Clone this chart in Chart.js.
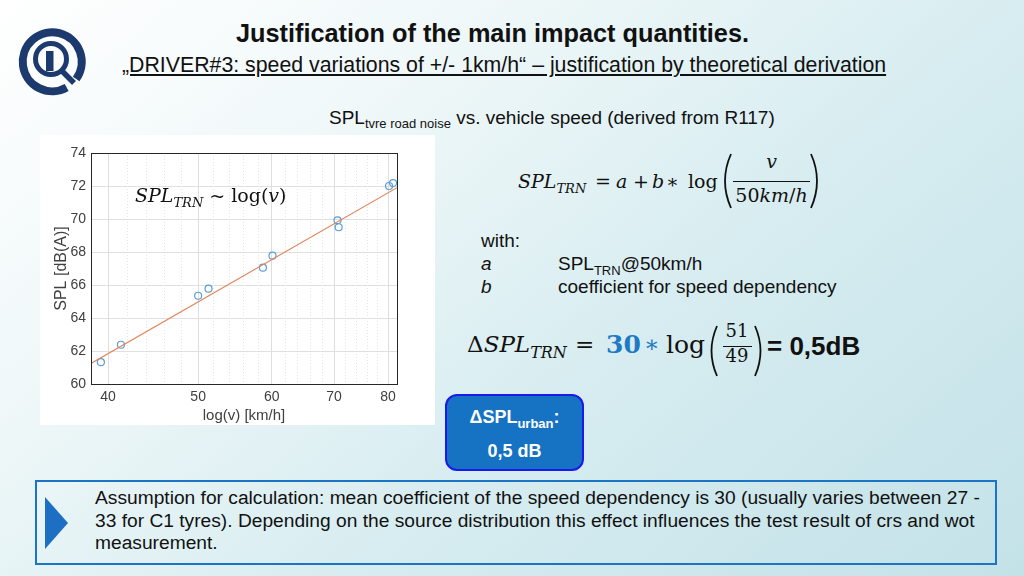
<!DOCTYPE html>
<html>
<head>
<meta charset="utf-8">
<script src="https://cdn.jsdelivr.net/npm/chart.js@4.4.1/dist/chart.umd.min.js"></script>
<style>
  html, body { margin: 0; padding: 0; }
  body {
    width: 1024px; height: 576px; overflow: hidden; position: relative;
    font-family: "Liberation Sans", Arial, sans-serif; color: #111;
    background: linear-gradient(140deg, #ffffff 0%, #f0f8f9 28%, #d6ecf0 62%, #c3e2e8 100%);
  }
  .abs { position: absolute; white-space: nowrap; }
  .title { left: 0; width: 985px; top: 19px; text-align: center; font-size: 25.3px; font-weight: bold; }
  .subtitle { left: 122px; top: 53px; font-size: 21.3px; text-decoration: underline; text-underline-offset: 2px; }
  .caption { left: 329px; top: 107px; font-size: 19px; }
  .caption sub { font-size: 13px; vertical-align: -4px; }
  #panel { position: absolute; left: 40px; top: 135px; width: 395px; height: 290px; background: #fff; }
  .m { position: absolute; white-space: nowrap; font-family: "DejaVu Serif", "Liberation Serif", serif; line-height: 1; }
  .m i { font-style: italic; }
  .with { font-size: 19px; }
  .bluebox {
    position: absolute; left: 445px; top: 394px; width: 135px; height: 73px;
    background: #1672c2; border: 2px solid #1a1aee; border-radius: 12px; color: #fff;
    font-weight: bold; font-size: 18px; text-align: center;
  }
  .note {
    position: absolute; left: 35px; top: 480px; width: 958px; height: 81px;
    border: 2px solid #1c74c4;
  }
  .note .txt { position: absolute; left: 58px; top: 5px; font-size: 19.2px; line-height: 22.5px; white-space: normal; width: 892px; }
</style>
</head>
<body>

<svg class="abs" style="left:10px;top:20px" width="90" height="80" viewBox="0 0 90 80">
  <path d="M 56.7 67.5 A 29.5 29.5 0 1 1 66.2 59" fill="none" stroke="#1d3a6e" stroke-width="8"/>
  <circle cx="41" cy="39" r="15.5" fill="none" stroke="#1d3a6e" stroke-width="5"/>
  <rect x="36" y="31" width="7.5" height="20" fill="#1d3a6e"/>
  <line x1="51" y1="50" x2="64" y2="63" stroke="#1d3a6e" stroke-width="5.5"/>
</svg>

<div class="abs title">Justification of the main impact quantities.</div>
<div class="abs subtitle">„DRIVER#3: speed variations of +/- 1km/h“ – justification by theoretical derivation</div>
<div class="abs caption">SPL<sub>tvre road noise</sub> vs. vehicle speed (derived from R117)</div>

<div id="panel"><canvas id="splChart"></canvas></div>
<div class="m" style="left:135px;top:186px;font-size:19px"><i>SPL<sub style="font-size:13px">TRN</sub></i> ~ log(<i>v</i>)</div>

<!-- formula 1, baseline ~188 -->
<div class="m" style="left:518px;top:172px;font-size:19px"><i>SPL<sub style="font-size:13px">TRN</sub></i></div>
<div class="m" style="left:595px;top:172px;font-size:19px">=</div>
<div class="m" style="left:616px;top:172px;font-size:19px"><i>a</i></div>
<div class="m" style="left:633px;top:172px;font-size:19px">+</div>
<div class="m" style="left:652px;top:172px;font-size:19px"><i>b</i></div>
<div class="m" style="left:666px;top:172px;font-size:19px">∗</div>
<div class="m" style="left:688px;top:172px;font-size:19px">log</div>
<svg class="abs" style="left:718px;top:152px" width="16" height="58"><path d="M 13 2 Q 1 29 13 56" fill="none" stroke="#111" stroke-width="1.8"/></svg>
<div class="m" style="left:733px;top:152px;width:77px;text-align:center;font-size:19px"><i>v</i></div>
<div class="abs" style="left:733px;top:181px;width:77px;height:1.4px;background:#111"></div>
<div class="m" style="left:733px;top:186px;width:77px;text-align:center;font-size:19px">50<i>km</i>/<i>h</i></div>
<svg class="abs" style="left:808px;top:152px" width="16" height="58"><path d="M 3 2 Q 15 29 3 56" fill="none" stroke="#111" stroke-width="1.8"/></svg>

<div class="abs with" style="left:481px;top:230px">with:</div>
<div class="abs with" style="left:481px;top:253px"><i>a</i></div>
<div class="abs with" style="left:558px;top:253px">SPL<sub style="font-size:13px">TRN</sub>@50km/h</div>
<div class="abs with" style="left:481px;top:276px"><i>b</i></div>
<div class="abs with" style="left:558px;top:276px">coefficient for speed dependency</div>

<!-- formula 2, baseline ~353 -->
<div class="m" style="left:467px;top:333px;font-size:23px">Δ<i>SPL<sub style="font-size:16px">TRN</sub></i></div>
<div class="m" style="left:575px;top:333px;font-size:23px">=</div>
<div class="m" style="left:606px;top:332px;font-size:25px;font-weight:bold;color:#1f7ac4">30</div>
<div class="m" style="left:644px;top:333px;font-size:23px;color:#1f7ac4">∗</div>
<div class="m" style="left:666px;top:332px;font-size:25px">log</div>
<svg class="abs" style="left:706px;top:324px" width="14" height="54"><path d="M 11 2 Q 0 27 11 52" fill="none" stroke="#111" stroke-width="1.8"/></svg>
<div class="m" style="left:721px;top:322px;width:32px;text-align:center;font-size:18px">51</div>
<div class="abs" style="left:723px;top:346px;width:29px;height:1.3px;background:#111"></div>
<div class="m" style="left:721px;top:347px;width:32px;text-align:center;font-size:18px">49</div>
<svg class="abs" style="left:752px;top:324px" width="14" height="54"><path d="M 3 2 Q 14 27 3 52" fill="none" stroke="#111" stroke-width="1.8"/></svg>
<div class="abs" style="left:767px;top:333px;font-size:26px;font-weight:bold;line-height:1">= 0,5dB</div>

<div class="bluebox">
  <div style="margin-top:11px">ΔSPL<sub style="font-size:13px">urban</sub>:</div>
  <div style="margin-top:10px">0,5 dB</div>
</div>

<div class="note">
  <svg class="abs" style="left:8px;top:15px" width="24" height="54"><polygon points="0,0 23,26 0,52" fill="#1c6fc2"/></svg>
  <div class="txt">Assumption for calculation: mean coefficient of the speed dependency is 30 (usually varies between 27 - 33 for C1 tyres). Depending on the source distribution this effect influences the test result of crs and wot measurement.</div>
</div>

<script>
// measured points
const speedKmh = [39.3, 41.3, 50.0, 51.3, 58.7, 60.1, 70.6, 70.8, 80.2, 81.0];
const splDbA = [61.32, 62.38, 65.35, 65.78, 67.05, 67.78, 69.92, 69.5, 72.0, 72.18];
// regression line ends
const fitSpeed = [38.35, 81.8];
const fitSpl = [61.25, 71.9];
const xTicks = [40, 50, 60, 70, 80];
const xMinorTicks = [42, 44, 46, 48, 52, 54, 56, 58, 62, 64, 66, 68, 72, 74, 76, 78];
const yTicks = [60, 62, 64, 66, 68, 70, 72, 74];

const tickFont = { family: "'Liberation Sans', Arial, sans-serif", size: 14 };

const boxPlugin = {
  id: "boxPlugin",
  afterDraw(chart) {
    const a = chart.chartArea;
    const ctx = chart.ctx;
    ctx.save();
    ctx.strokeStyle = "#262626";
    ctx.lineWidth = 1;
    ctx.strokeRect(a.left + 0.5, a.top + 0.5, a.right - a.left, a.bottom - a.top);
    ctx.restore();
  },
};

new Chart(document.getElementById("splChart"), {
  type: "scatter",
  data: {
    datasets: [
      {
        label: "fit",
        type: "line",
        data: fitSpeed.map((v, i) => ({ x: v, y: fitSpl[i] })),
        borderColor: "#e3835a",
        borderWidth: 1.2,
        pointRadius: 0,
        fill: false,
      },
      {
        label: "measured",
        data: speedKmh.map((v, i) => ({ x: v, y: splDbA[i] })),
        borderColor: "#5a9fd4",
        backgroundColor: "rgba(0,0,0,0)",
        borderWidth: 1.2,
        pointRadius: 3.5,
      },
    ],
  },
  options: {
    responsive: true,
    maintainAspectRatio: false,
    animation: false,
    layout: { padding: { top: 18, right: 38, left: 0, bottom: 0 } },
    plugins: { legend: { display: false }, tooltip: { enabled: false } },
    scales: {
      x: {
        type: "logarithmic",
        min: 38.35,
        max: 81.8,
        afterBuildTicks: (s) => { s.ticks = xTicks.map((v) => ({ value: v })); },
        afterFit: (s) => { s.height = 41; },
        ticks: { color: "#404040", font: tickFont, padding: 5, callback: (v) => String(v), maxRotation: 0 },
        grid: { color: "#dedede", drawTicks: false },
        border: { display: false },
        title: { display: true, text: "log(v) [km/h]", color: "#404040", font: { family: tickFont.family, size: 15 }, padding: { top: 1, bottom: 0 } },
      },
      xMinor: {
        type: "logarithmic",
        position: "bottom",
        min: 38.35,
        max: 81.8,
        afterBuildTicks: (s) => { s.ticks = xMinorTicks.map((v) => ({ value: v })); },
        afterFit: (s) => { s.height = 0; },
        ticks: { display: false },
        grid: { color: "#e4e4e4", drawTicks: false },
        border: { display: false, dash: [1, 2] },
      },
      y: {
        min: 60,
        max: 74,
        afterBuildTicks: (s) => { s.ticks = yTicks.map((v) => ({ value: v })); },
        afterFit: (s) => { s.width = 51; },
        ticks: { color: "#404040", font: tickFont, padding: 5 },
        grid: { color: "#e0e0e0", drawTicks: false },
        border: { display: false },
        title: { display: true, text: "SPL [dB(A)]", color: "#404040", font: { family: tickFont.family, size: 16 }, padding: { top: 12, bottom: 0 } },
      },
    },
  },
  plugins: [boxPlugin],
});
</script>
</body>
</html>
